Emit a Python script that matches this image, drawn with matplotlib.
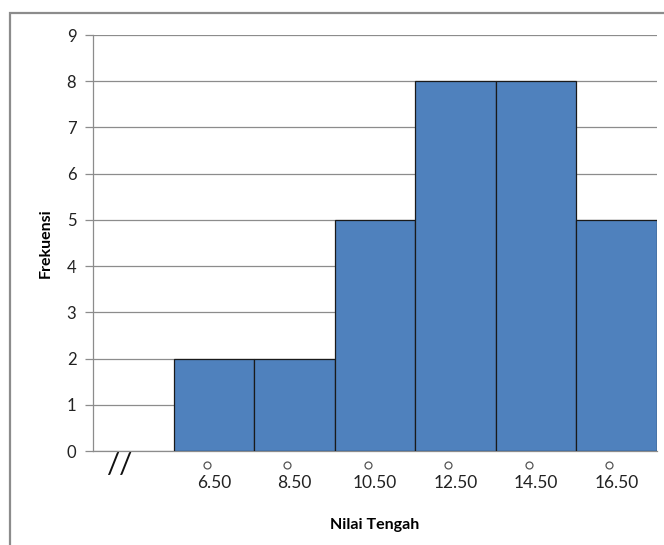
import matplotlib
matplotlib.use("Agg")
from matplotlib import pyplot as plt
from matplotlib.patches import Rectangle
from matplotlib.transforms import blended_transform_factory

# data: nilai tengah dan frekuensi (slot pertama kosong, ditandai //)
nilai_tengah = ["6.50", "8.50", "10.50", "12.50", "14.50", "16.50"]
frekuensi = [2, 2, 5, 8, 8, 5]
y_ticks = list(range(0, 10))

plt.rcParams['font.family'] = ['Lato', 'DejaVu Sans']

fig = plt.figure(figsize=(6.64, 5.45), dpi=100)
ax = fig.add_axes([93 / 664, 1 - 451 / 545, (657 - 93) / 664, (451 - 35) / 545])

pos = list(range(1, len(nilai_tengah) + 1))
ax.bar(pos, frekuensi, width=1.0, color='#4F81BD', edgecolor='#1a1a1a',
       linewidth=0.9, zorder=3)

ax.set_xlim(-0.5, len(nilai_tengah) + 0.5)
ax.set_ylim(0, 9)
ax.set_yticks(y_ticks)
ax.set_xticks([])
ax.yaxis.grid(True, color='#8c8c8c', linewidth=0.9, zorder=0)
ax.set_axisbelow(True)

for s in ['top', 'right']:
    ax.spines[s].set_visible(False)
ax.spines['left'].set_color('#8c8c8c')
ax.spines['bottom'].set_color('#8c8c8c')
ax.spines['left'].set_linewidth(0.9)
ax.spines['bottom'].set_linewidth(0.9)
ax.tick_params(axis='y', length=6, width=0.9, color='#8c8c8c',
               labelsize=12, pad=6, labelcolor='#222222')

# label sumbu x: lingkaran kecil + angka
tr = blended_transform_factory(ax.transData, ax.transAxes)
for p, lab in zip(pos, nilai_tengah):
    ax.text(p, -0.057, lab, transform=tr, ha='center', va='top',
            fontsize=12.5, color='#222222')
    ax.plot([p - 0.09], [-0.034], transform=tr, marker='o', markersize=5,
            markerfacecolor='white', markeredgecolor='#555555',
            markeredgewidth=0.9, clip_on=False, zorder=5)

# tanda patah sumbu //
ax.text(0.046, -0.002, "//", transform=ax.transAxes, ha='center', va='top',
        fontsize=21, color='#111111')

ax.set_xlabel("Nilai Tengah", fontsize=11.5, fontweight='bold', labelpad=48)
ax.set_ylabel("Frekuensi", fontsize=11.5, fontweight='bold', labelpad=10)

# bingkai luar
fig.patches.append(Rectangle((10 / 664, -0.1), 1.2, 1 - 13 / 545 + 0.1,
                             transform=fig.transFigure, fill=False,
                             edgecolor='#8c8c8c', linewidth=1.6))

fig.savefig("out.png", dpi=100)
